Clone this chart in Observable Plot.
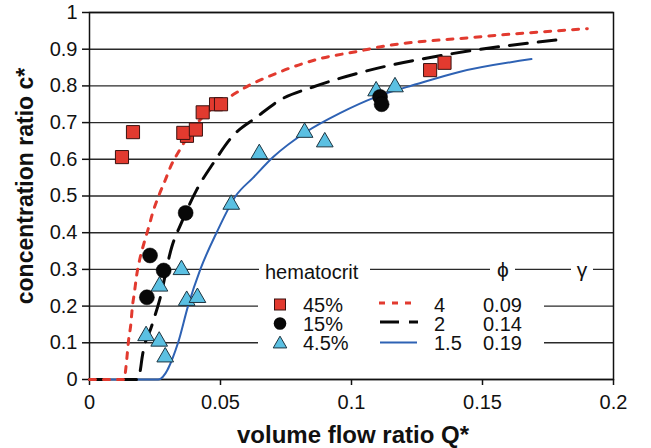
<!DOCTYPE html>
<html><head><meta charset="utf-8">
<script src="https://cdn.jsdelivr.net/npm/d3@7"></script>
<script src="https://cdn.jsdelivr.net/npm/@observablehq/plot@0.6"></script>
<style>
html,body{margin:0;padding:0;background:#fff;}
svg{font-family:"Liberation Sans",Arial,Helvetica,sans-serif;}
</style></head><body><div id="chart"></div>
<script>
// ---- tick values and labels ----
const xTicks = [0, 0.05, 0.1, 0.15, 0.2];
const xTickLabels = ["0", "0.05", "0.1", "0.15", "0.2"];
const yTicks = [0, 0.1, 0.2, 0.3, 0.4, 0.5, 0.6, 0.7, 0.8, 0.9, 1];
const yTickLabels = ["0", "0.1", "0.2", "0.3", "0.4", "0.5", "0.6", "0.7", "0.8", "0.9", "1"];

// ---- measured points: hematocrit 45% (squares) ----
const hct45Q = [0.0124, 0.0166, 0.0372, 0.0358, 0.0406, 0.0432, 0.0483, 0.0502, 0.1300, 0.1355];
const hct45C = [0.606, 0.674, 0.664, 0.672, 0.681, 0.728, 0.750, 0.750, 0.843, 0.863];
// ---- hematocrit 15% (circles) ----
const hct15Q = [0.0219, 0.0231, 0.0283, 0.0367, 0.1109, 0.1115];
const hct15C = [0.224, 0.338, 0.297, 0.454, 0.770, 0.750];
// ---- hematocrit 4.5% (triangles) ----
const hct4Q = [0.0216, 0.0266, 0.0289, 0.0267, 0.0351, 0.0371, 0.0412, 0.0541, 0.0648, 0.0821, 0.0898, 0.1094, 0.1166];
const hct4C = [0.119, 0.104, 0.061, 0.254, 0.299, 0.215, 0.223, 0.477, 0.615, 0.673, 0.647, 0.786, 0.797];

// ---- model curves ----
// phi = 4, gamma = 0.09 (red dotted)
const phi4Q = [0, 0.0133, 0.0137, 0.0143, 0.0149, 0.0158, 0.0163, 0.0172, 0.0179, 0.0191, 0.0209, 0.0226, 0.0242, 0.0264, 0.0289, 0.0312, 0.0343, 0.0410, 0.0555, 0.0726, 0.0878, 0.1030, 0.1106, 0.1460, 0.1900];
const phi4C = [0, 0, 0.020, 0.061, 0.106, 0.152, 0.193, 0.240, 0.279, 0.325, 0.374, 0.415, 0.456, 0.500, 0.543, 0.584, 0.624, 0.697, 0.779, 0.838, 0.874, 0.895, 0.906, 0.932, 0.956];
// phi = 2, gamma = 0.14 (black dashed)
const phi2Q = [0, 0.0185, 0.0195, 0.0200, 0.0238, 0.0267, 0.0314, 0.0352, 0.0410, 0.0473, 0.0546, 0.0638, 0.0726, 0.0853, 0.1043, 0.1385, 0.1780];
const phi2C = [0, 0, 0.030, 0.056, 0.147, 0.215, 0.361, 0.429, 0.518, 0.590, 0.663, 0.715, 0.761, 0.797, 0.838, 0.888, 0.925];
// phi = 1.5, gamma = 0.19 (blue solid)
const phi15Q = [0, 0.0262, 0.0338, 0.0376, 0.0423, 0.0485, 0.0558, 0.0625, 0.0701, 0.0828, 0.0954, 0.1094, 0.1250, 0.1411, 0.1687];
const phi15C = [0, 0, 0.100, 0.200, 0.300, 0.400, 0.500, 0.550, 0.606, 0.675, 0.725, 0.770, 0.805, 0.838, 0.873];

// ---- legend text ----
const legendTitle = "hematocrit";
const hctLabels = ["45%", "15%", "4.5%"];
const phiLabels = ["4", "2", "1.5"];
const gammaLabels = ["0.09", "0.14", "0.19"];
const xTitle = "volume flow ratio Q*";
const yTitle = "concentration ratio c*";

const toRows = (qs, cs) => qs.map((q, i) => ({q, c: cs[i]}));

const RED = "#e23a2f", BLUE = "#2e62b4", CYAN = "#5bc0e2", BLACK = "#080808";

const chart = Plot.plot({
  width: 651, height: 448,
  marginLeft: 89, marginRight: 38, marginTop: 12, marginBottom: 69,
  x: {domain: [0, 0.2]},
  y: {domain: [0, 1]},
  style: {fontFamily: "'Liberation Sans', Arial, sans-serif", background: "#fff", color: "#111"},
  marks: [
    Plot.ruleY(yTicks, {stroke: "#2a2a2a", strokeWidth: 1.4}),
    Plot.frame({stroke: "#111", strokeWidth: 1.5}),
    Plot.axisX({ticks: xTicks, tickFormat: d => xTickLabels[xTicks.indexOf(d)], tickSize: 6, tickPadding: 9, fontSize: 20, label: null, strokeWidth: 1.5}),
    Plot.axisY({ticks: yTicks, tickFormat: d => yTickLabels[yTicks.indexOf(d)], tickSize: 7, tickPadding: 5, fontSize: 20, label: null, strokeWidth: 1.5}),
    Plot.line(toRows(phi15Q, phi15C), {x: "q", y: "c", stroke: BLUE, strokeWidth: 2, curve: "monotone-x"}),
    Plot.line(toRows(phi2Q, phi2C), {x: "q", y: "c", stroke: BLACK, strokeWidth: 3, strokeDasharray: "18,11", curve: "monotone-x"}),
    Plot.line(toRows(phi4Q, phi4C), {x: "q", y: "c", stroke: RED, strokeWidth: 3, strokeDasharray: "6,8", curve: "monotone-x"}),
    Plot.dot(toRows(hct4Q, hct4C), {x: "q", y: "c", symbol: "triangle", r: 6.2, fill: CYAN, stroke: "#1d3440", strokeWidth: 1}),
    Plot.dot(toRows(hct15Q, hct15C), {x: "q", y: "c", symbol: "circle", r: 7.5, fill: BLACK, stroke: "#000", strokeWidth: 0.5}),
    Plot.dot(toRows(hct45Q, hct45C), {x: "q", y: "c", symbol: "square", r: 7.4, fill: RED, stroke: "#3a1210", strokeWidth: 1})
  ]
});

document.getElementById("chart").appendChild(chart);

const svg = d3.select(chart);
const FF = "'Liberation Sans', Arial, sans-serif";

// axis titles
svg.append("text").attr("x", 353).attr("y", 443).attr("text-anchor", "middle")
  .attr("font-family", FF).attr("font-size", 24).attr("font-weight", "bold").attr("fill", "#111").text(xTitle);
svg.append("text").attr("transform", "translate(33,186) rotate(-90)").attr("text-anchor", "middle")
  .attr("font-family", FF).attr("font-size", 23).attr("font-weight", "bold").attr("fill", "#111").text(yTitle);

// legend
const lg = svg.append("g").attr("font-family", FF).attr("fill", "#111").attr("text-anchor", "start");
lg.append("rect").attr("x", 258).attr("y", 277).attr("width", 286).attr("height", 84).attr("fill", "#fff");
lg.append("rect").attr("x", 259).attr("y", 258).attr("width", 111).attr("height", 22).attr("fill", "#fff");
lg.append("rect").attr("x", 490).attr("y", 258).attr("width", 25).attr("height", 22).attr("fill", "#fff");
lg.append("rect").attr("x", 571).attr("y", 258).attr("width", 22).attr("height", 22).attr("fill", "#fff");
lg.append("text").attr("x", 265).attr("y", 279).attr("font-size", 20).attr("text-anchor", "start").text(legendTitle);
lg.append("text").attr("x", 503).attr("y", 277).attr("font-size", 21).attr("text-anchor", "middle").text("\u03D5");
lg.append("text").attr("x", 582).attr("y", 277).attr("font-size", 21).attr("text-anchor", "middle").text("\u03B3");

const rowBase = [311.5, 330.5, 350];
const rowMid = [304.5, 323.5, 343];
// symbols
lg.append("rect").attr("x", 274.5).attr("y", rowMid[0] - 5.5).attr("width", 11).attr("height", 11)
  .attr("fill", RED).attr("stroke", "#3a1210").attr("stroke-width", 1);
lg.append("circle").attr("cx", 280).attr("cy", rowMid[1]).attr("r", 6.3).attr("fill", BLACK);
lg.append("path").attr("d", d3.symbol(d3.symbolTriangle, 80)()).attr("transform", `translate(280,${rowMid[2] + 1})`)
  .attr("fill", CYAN).attr("stroke", "#1d3440").attr("stroke-width", 1);
hctLabels.forEach((t, i) => lg.append("text").attr("x", 303).attr("y", rowBase[i]).attr("font-size", 20).attr("text-anchor", "start").text(t));
// line samples
lg.append("line").attr("x1", 379).attr("x2", 418).attr("y1", rowMid[0] - 1.5).attr("y2", rowMid[0] - 1.5)
  .attr("stroke", RED).attr("stroke-width", 3).attr("stroke-dasharray", "6,7");
lg.append("line").attr("x1", 380).attr("x2", 418).attr("y1", rowMid[1] - 1.5).attr("y2", rowMid[1] - 1.5)
  .attr("stroke", BLACK).attr("stroke-width", 3).attr("stroke-dasharray", "19,10");
lg.append("line").attr("x1", 380).attr("x2", 417).attr("y1", rowMid[2] - 0.5).attr("y2", rowMid[2] - 0.5)
  .attr("stroke", BLUE).attr("stroke-width", 2);
phiLabels.forEach((t, i) => lg.append("text").attr("x", 434).attr("y", rowBase[i]).attr("font-size", 20).attr("text-anchor", "start").text(t));
gammaLabels.forEach((t, i) => lg.append("text").attr("x", 483).attr("y", rowBase[i]).attr("font-size", 20).attr("text-anchor", "start").text(t));
</script>
</body></html>
